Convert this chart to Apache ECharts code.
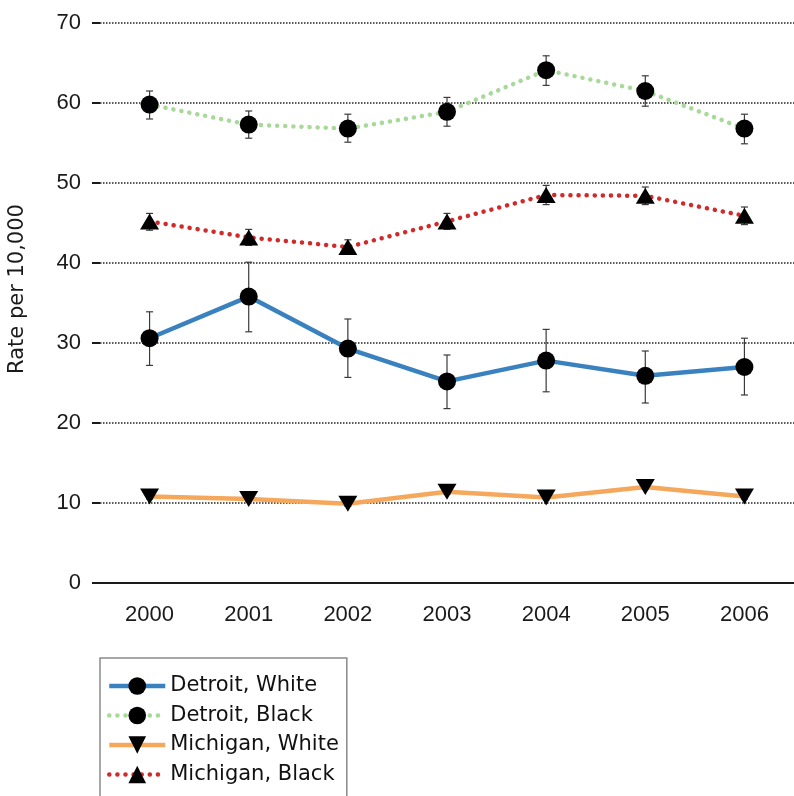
<!DOCTYPE html>
<html>
<head>
<meta charset="utf-8">
<script src="https://cdn.jsdelivr.net/npm/echarts@6/dist/echarts.min.js"></script>
<style>
  html, body { margin: 0; padding: 0; background: #fff; }
  #chart { width: 794px; height: 796px; }
</style>
</head>
<body>
<div id="chart"></div>
<script>
// Years on the x axis
const years = ['2000', '2001', '2002', '2003', '2004', '2005', '2006'];

// Rates per 10,000 with confidence bounds
const detroitWhite   = [30.6, 35.8, 29.3, 25.2, 27.8, 25.9, 27.0];
const detroitWhiteLo = [27.2, 31.4, 25.7, 21.8, 23.9, 22.5, 23.5];
const detroitWhiteHi = [33.9, 40.1, 33.0, 28.5, 31.7, 29.0, 30.6];

const detroitBlack   = [59.8, 57.3, 56.8, 58.9, 64.1, 61.5, 56.8];
const detroitBlackLo = [58.0, 55.6, 55.1, 57.1, 62.2, 59.6, 54.9];
const detroitBlackHi = [61.5, 59.0, 58.6, 60.7, 65.9, 63.4, 58.6];

const michiganWhite   = [10.8, 10.5, 9.9, 11.4, 10.7, 12.0, 10.8];
const michiganWhiteLo = [10.5, 10.2, 9.6, 11.1, 10.4, 11.7, 10.5];
const michiganWhiteHi = [11.1, 10.8, 10.2, 11.7, 11.0, 12.3, 11.1];

const michiganBlack   = [45.2, 43.2, 42.0, 45.2, 48.5, 48.4, 45.9];
const michiganBlackLo = [44.1, 42.2, 41.1, 44.2, 47.3, 47.3, 44.8];
const michiganBlackHi = [46.2, 44.2, 42.9, 46.2, 49.7, 49.5, 47.0];

const yTicks = { min: 0, max: 70, step: 10 };

const labelFont = 'Liberation Sans';
const textFont = 'DejaVu Sans';

// Whisker rows: [category index, lower, upper]
function whiskers(lo, hi) {
  return lo.map((v, i) => [i, v, hi[i]]);
}

function renderWhisker(params, api) {
  const x = api.value(0);
  const top = api.coord([x, api.value(2)]);
  const bot = api.coord([x, api.value(1)]);
  const cap = 3.5;
  const style = { stroke: '#3a3a3a', lineWidth: 1.2 };
  return {
    type: 'group',
    children: [
      { type: 'line', shape: { x1: top[0], y1: top[1], x2: bot[0], y2: bot[1] }, style },
      { type: 'line', shape: { x1: top[0] - cap, y1: top[1], x2: top[0] + cap, y2: top[1] }, style },
      { type: 'line', shape: { x1: bot[0] - cap, y1: bot[1], x2: bot[0] + cap, y2: bot[1] }, style }
    ]
  };
}

function errorSeries(lo, hi) {
  return {
    type: 'custom',
    renderItem: renderWhisker,
    data: whiskers(lo, hi),
    encode: { x: 0, y: [1, 2] },
    z: 3,
    silent: true
  };
}

const dotted = [0.1, 8];

const chart = echarts.init(document.getElementById('chart'), null, { renderer: 'canvas' });
chart.setOption({
  animation: false,
  backgroundColor: '#ffffff',
  grid: { left: 100, right: -4, top: 23, bottom: 213, containLabel: false },
  xAxis: {
    type: 'category',
    data: years,
    boundaryGap: true,
    axisLine: { lineStyle: { color: '#1a1a1a', width: 2 } },
    axisTick: { alignWithLabel: true, length: 8, lineStyle: { color: '#1a1a1a', width: 1.5 } },
    axisLabel: { fontFamily: labelFont, fontSize: 22, color: '#1a1a1a', margin: 21 }
  },
  yAxis: {
    type: 'value',
    min: yTicks.min,
    max: yTicks.max,
    interval: yTicks.step,
    axisLine: { show: false },
    axisTick: { show: true, length: 8, lineStyle: { color: '#1a1a1a', width: 2 } },
    axisLabel: { fontFamily: labelFont, fontSize: 22, color: '#1a1a1a', margin: 19 },
    splitLine: { show: true, lineStyle: { color: '#222', width: 1.5, type: [1.5, 1.5] } }
  },
  legend: {
    orient: 'vertical',
    left: 100,
    top: 658,
    height: 150,
    padding: [17, 8, 30, 7],
    itemGap: 7.5,
    itemWidth: 56,
    itemHeight: 22,
    itemTextGap: 12,
    borderColor: '#8a8a8a',
    borderWidth: 1.5,
    lineStyle: { width: 4.5 },
    textStyle: { fontFamily: textFont, fontSize: 21, color: '#111', lineHeight: 22 },
    data: ['Detroit, White', 'Detroit, Black', 'Michigan, White', 'Michigan, Black']
  },
  graphic: [{
    type: 'text',
    x: 18,
    y: 289,
    rotation: Math.PI / 2,
    style: {
      text: 'Rate per 10,000',
      fontFamily: textFont,
      fontSize: 21,
      fill: '#1a1a1a',
      align: 'center',
      verticalAlign: 'middle'
    }
  }],
  series: [
    {
      name: 'Detroit, White',
      type: 'line',
      data: detroitWhite,
      symbol: 'circle',
      symbolSize: 18,
      itemStyle: { color: '#000' },
      lineStyle: { color: '#3a82bf', width: 4.5 },
      z: 4
    },
    {
      name: 'Detroit, Black',
      type: 'line',
      data: detroitBlack,
      symbol: 'circle',
      symbolSize: 18,
      itemStyle: { color: '#000' },
      lineStyle: { color: '#a8d89a', width: 4.5, type: dotted, cap: 'round' },
      z: 4
    },
    {
      name: 'Michigan, White',
      type: 'line',
      data: michiganWhite,
      symbol: 'triangle',
      symbolRotate: 180,
      symbolSize: [19, 16],
      itemStyle: { color: '#000' },
      lineStyle: { color: '#f5a85c', width: 4.5 },
      z: 4
    },
    {
      name: 'Michigan, Black',
      type: 'line',
      data: michiganBlack,
      symbol: 'triangle',
      symbolSize: [19, 16],
      itemStyle: { color: '#000' },
      lineStyle: { color: '#d12a2a', width: 4.5, type: dotted, cap: 'round' },
      z: 4
    },
    errorSeries(detroitWhiteLo, detroitWhiteHi),
    errorSeries(detroitBlackLo, detroitBlackHi),
    errorSeries(michiganWhiteLo, michiganWhiteHi),
    errorSeries(michiganBlackLo, michiganBlackHi)
  ]
});
</script>
</body>
</html>
